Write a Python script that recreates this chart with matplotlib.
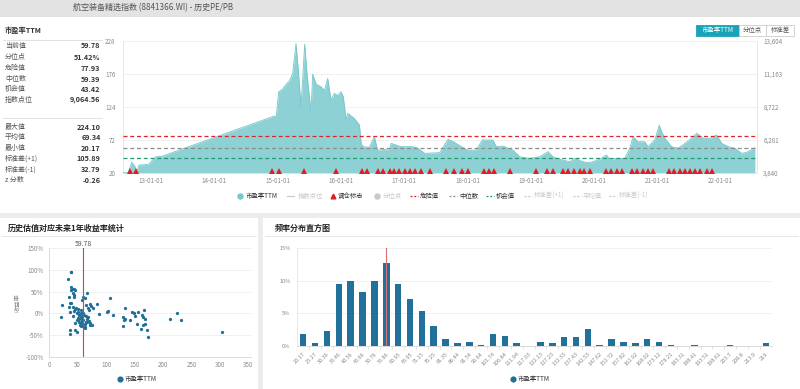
import matplotlib
matplotlib.use('Agg')
import matplotlib.pyplot as plt
import matplotlib.transforms as mtransforms
import matplotlib.dates as mdates
from matplotlib.patches import Rectangle
from matplotlib.lines import Line2D
import pandas as pd

plt.rcParams['font.family'] = ['Noto Sans CJK SC', 'DejaVu Sans']

# ---------------- data ----------------
page_title = '航空装备精选指数 (8841366.WI) - 历史PE/PB'
stat_title = '市盈率TTM'
stat_labels_a = ['当前值', '分位点', '危险值', '中位数', '机会值', '指数点位']
stat_values_a = ['59.78', '51.42%', '77.93', '59.39', '43.42', '9,064.56']
stat_labels_b = ['最大值', '平均值', '最小值', '标准差(+1)', '标准差(-1)', 'z 分数']
stat_values_b = ['224.10', '69.34', '20.17', '105.89', '32.79', '-0.26']

current_pe = 59.78
danger_value = 77.93
median_value = 59.39
chance_value = 43.42

pe_dates = ['2012-07-20', '2012-08-23', '2012-09-11', '2012-09-22', '2012-09-30', '2012-10-09',
            '2012-10-23', '2012-11-21', '2012-12-20', '2013-01-08', '2013-01-29', '2013-03-06',
            '2014-12-13', '2014-12-24', '2015-01-07', '2015-01-28', '2015-02-20', '2015-03-10',
            '2015-03-29', '2015-04-17', '2015-05-01', '2015-05-16', '2015-05-26', '2015-06-06',
            '2015-06-21', '2015-07-13', '2015-07-22', '2015-08-11', '2015-09-08', '2015-09-28',
            '2015-10-17', '2015-11-05', '2015-11-24', '2015-12-12', '2016-01-02', '2016-01-15',
            '2016-01-31', '2016-02-09', '2016-02-29', '2016-03-19', '2016-04-17', '2016-04-27',
            '2016-05-07', '2016-06-13', '2016-07-12', '2016-07-31', '2016-09-08', '2016-10-07',
            '2016-10-17', '2016-11-15', '2016-12-13', '2017-02-19', '2017-03-20', '2017-04-28',
            '2017-07-23', '2017-09-10', '2017-10-08', '2017-11-26', '2018-01-03', '2018-02-20',
            '2018-03-27', '2018-05-27', '2018-06-16', '2018-07-24', '2018-09-20', '2018-10-28',
            '2018-12-25', '2019-02-21', '2019-04-10', '2019-05-08', '2019-06-16', '2019-08-13',
            '2019-09-11', '2019-10-29', '2019-12-06', '2020-02-02', '2020-03-12', '2020-03-31',
            '2020-05-09', '2020-06-26', '2020-07-25', '2020-08-13', '2020-09-10', '2020-10-19',
            '2020-11-07', '2020-12-16', '2021-01-11', '2021-01-24', '2021-02-12', '2021-03-23',
            '2021-04-30', '2021-06-08', '2021-07-17', '2021-08-15', '2021-09-22', '2021-10-30',
            '2021-12-08', '2022-01-06', '2022-02-13', '2022-03-23', '2022-05-01', '2022-05-30',
            '2022-07-17']
pe_values = [20.5, 21, 37, 33, 30, 21.5,
             32.6, 33, 34, 40, 45.7, 46.5,
             109.8, 108, 148, 152, 160, 165,
             177, 224, 180, 124.5, 170, 223,
             172, 114.6, 176, 160, 156, 150,
             169, 135, 145.6, 142, 148, 140,
             103.5, 114, 110, 106, 95.6, 66.8,
             61.5, 60.5, 77.2, 56, 57, 56,
             66.8, 64, 61.5, 61.5, 59, 51,
             52, 73, 70, 61.5, 56, 56,
             72, 72, 61.5, 62.5, 56, 45.7,
             43, 45.7, 53.6, 45.7, 41.6, 37.8,
             43, 37.8, 36.2, 41.6, 48.4, 41.6,
             43, 43, 59, 77.2, 69.3, 69.3,
             61.5, 72, 95.6, 85, 74.7, 61.5,
             59, 66.8, 74.7, 82.5, 74.7, 74.7,
             80, 66.8, 61.5, 59, 51, 52.5,
             59.78]

rebalance_dates = ['2012-09-01', '2012-10-05', '2014-12-01', '2015-01-07', '2015-06-01', '2015-12-01',
                   '2016-05-03', '2016-06-01', '2016-08-01', '2016-08-30', '2016-10-08', '2016-11-01',
                   '2016-11-29', '2017-01-03', '2017-02-01', '2017-03-01', '2017-04-05', '2017-05-30',
                   '2017-09-01', '2017-10-13', '2017-11-30', '2018-01-03', '2018-04-05', '2018-05-04',
                   '2018-06-02', '2018-09-03', '2019-02-01', '2019-04-02', '2019-05-07', '2019-07-04',
                   '2019-08-01', '2019-09-07', '2019-10-10', '2019-11-02', '2019-12-06', '2020-03-08',
                   '2020-04-05', '2020-05-11', '2020-06-09', '2020-08-06', '2020-09-04', '2020-10-09',
                   '2020-11-07', '2020-12-06', '2021-03-09', '2021-04-06', '2021-05-10', '2021-06-08',
                   '2021-07-05', '2021-08-05', '2021-09-03', '2021-10-11', '2021-11-09']

pe_ticks = [20, 72, 124, 176, 228]
index_ticks = [3840, 6281, 8722, 11163, 13604]
year_ticks = ['2013-01-01', '2014-01-01', '2015-01-01', '2016-01-01', '2017-01-01',
              '2018-01-01', '2019-01-01', '2020-01-01', '2021-01-01', '2022-01-01']

scatter_pe = [38, 39, 33, 39, 40, 38, 43, 45, 41, 43, 35, 44, 67, 59, 62, 57, 23, 36, 38, 42,
              35, 47, 50, 55, 64, 72, 84, 76, 68, 70, 73, 107, 133, 101, 103, 112, 88, 20, 36, 44,
              48, 52, 55, 57, 53, 50, 58, 60, 56, 52, 48, 46, 54, 58, 62, 64, 66, 68, 70, 72,
              75, 60, 63, 58, 61, 45, 48, 36, 36, 56, 63, 72, 66, 50, 55, 60, 65, 42, 46,
              130, 131, 133, 145, 148, 151, 142, 154, 129, 161, 165, 169, 165, 166, 169, 171, 173,
              163, 156, 213, 225, 231, 304]
scatter_ret = [96, 95, 79, 60, 57, 54, 55, 54, 46, 42, 37, 37, 48, 37, 35, 31, 20, 25, 23, 14,
               14, 12, 10, 8, 19, 21, 21, 12, 13, 8, 16, 35, 13, 4, 5, -4, -2, -8, 4, 6,
               0, -4, -8, -12, -14, -10, -18, -15, -22, -20, -16, -22, -26, -28, -25, -20, -14, -8, -18, -22,
               -28, -30, -33, -6, -4, -38, -42, -38, -47, -30, -32, -27, -20, 2, 0, 0, -5, -6, 9,
               -8, -15, -12, 2, 1, -6, -15, -25, -29, -35, -27, -25, -8, 8, -12, -38, -54,
               -4, 2, -14, 1, -15, -42]
scatter_xticks = [0, 50, 100, 150, 200, 250, 300, 350]
scatter_yticks = [-100, -50, 0, 50, 100, 150]

hist_bins = ['20.17', '25.27', '30.36', '35.46', '40.56', '45.66', '50.76', '55.86', '60.95', '66.05',
             '71.15', '76.25', '81.35', '86.44', '91.54', '96.64', '101.74', '106.84', '111.94', '117.03',
             '122.13', '127.23', '132.33', '137.43', '142.53', '147.62', '152.72', '157.82', '162.92', '168.02',
             '173.12', '178.21', '183.31', '188.41', '193.51', '198.61', '203.7', '208.8', '213.9', '219']
hist_pct = [1.8, 0.4, 2.25, 9.5, 10.0, 8.35, 10.0, 12.7, 9.5, 7.2,
            5.4, 3.0, 1.1, 0.4, 0.67, 0.2, 1.84, 1.55, 0.4, 0,
            0.67, 0.4, 1.33, 1.33, 2.56, 0.2, 1.13, 0.67, 0.4, 1.13,
            0.67, 0.2, 0, 0.2, 0, 0, 0.2, 0, 0, 0.4]
hist_current_bin = '55.86'
hist_yticks = [0, 5, 10, 15]

# ---------------- styles ----------------
TEAL_FILL = '#8ed1d5'
TEAL_LINE = '#74c6cb'
BLUE = '#1f6f96'
RED = '#e31b23'
GRAY_TXT = '#8a8a8a'
DARK = '#333333'
LIGHT = '#c8c8c8'

W, H = 800, 389
fig = plt.figure(figsize=(8, 3.89), dpi=100)
fig.patch.set_facecolor('#ececec')


def px_axes(l, t, r, b, **kw):
    return fig.add_axes([l / W, 1 - b / H, (r - l) / W, (b - t) / H], **kw)


bg = px_axes(0, 0, W, H)
bg.set_xlim(0, W)
bg.set_ylim(H, 0)
bg.axis('off')

# cards
bg.add_patch(Rectangle((0, 0), 800, 17, color='#e3e3e3', lw=0))
bg.add_patch(Rectangle((0, 17), 800, 196, color='white', lw=0))
bg.add_patch(Rectangle((0, 218), 258, 171, color='white', lw=0))
bg.add_patch(Rectangle((263, 218), 537, 171, color='white', lw=0))
bg.text(73, 8, page_title, fontsize=5.8, color='#555555', va='center', ha='left')

# stats panel
bg.text(5, 30, stat_title, fontsize=5.2, fontweight='bold', color=DARK, va='center')
bg.plot([3, 102], [40, 40], color='#dddddd', lw=0.6)
bg.plot([3, 102], [118, 118], color='#dddddd', lw=0.6)
ys_a = [45.7, 57.3, 68, 79, 89.3, 99.7]
ys_b = [127, 137.3, 148, 158.7, 169.3, 180]
for lab, val, y in zip(stat_labels_a + stat_labels_b, stat_values_a + stat_values_b, ys_a + ys_b):
    bg.text(5, y, lab, fontsize=5, color='#555555', va='center', ha='left')
    bg.text(100.5, y, val, fontsize=5.2, color=DARK, fontweight='bold', va='center', ha='right')

# buttons
bg.add_patch(Rectangle((696, 24.5), 42.5, 11.5, facecolor='#1aa2b6', edgecolor='#1aa2b6', lw=0.6))
bg.text(717.2, 30.3, '市盈率TTM', fontsize=4.6, color='white', ha='center', va='center')
bg.add_patch(Rectangle((738.5, 24.5), 27.5, 11.5, facecolor='white', edgecolor='#cccccc', lw=0.6))
bg.text(752.2, 30.3, '分位点', fontsize=4.6, color='#555555', ha='center', va='center')
bg.add_patch(Rectangle((766, 24.5), 28, 11.5, facecolor='white', edgecolor='#cccccc', lw=0.6))
bg.text(780, 30.3, '标准差', fontsize=4.6, color='#555555', ha='center', va='center')

# top legend
ly = 196
bg.plot([239.5], [ly], 'o', color='#73c8cd', ms=3.6)
bg.text(246, ly, '市盈率TTM', fontsize=4.6, color=DARK, va='center')
bg.plot([287, 294], [ly, ly], color=LIGHT, lw=0.8)
bg.text(298, ly, '指数点位', fontsize=4.6, color=LIGHT, va='center')
bg.plot([332.7], [ly], '^', color=RED, ms=3.4)
bg.text(338, ly, '调仓标志', fontsize=4.6, color=DARK, va='center')
bg.plot([376.7], [ly], 'o', color=LIGHT, ms=3.6)
bg.text(383, ly, '分位点', fontsize=4.6, color=LIGHT, va='center')
dash_items = [(410, '危险值', '#d9262c', DARK), (449, '中位数', '#8c8c8c', DARK),
              (486, '机会值', '#239a72', DARK), (524, '标准差(+1)', LIGHT, LIGHT),
              (573, '平均值', LIGHT, LIGHT), (609, '标准差(-1)', LIGHT, LIGHT)]
for x0, lab, c, tc in dash_items:
    bg.add_line(Line2D([x0, x0 + 8], [ly, ly], color=c, lw=0.9, dashes=(1.6, 1.4)))
    bg.text(x0 + 10, ly, lab, fontsize=4.6, color=tc, va='center')

# bottom titles
bg.text(8, 228, '历史估值对应未来1年收益率统计', fontsize=5.8, fontweight='bold', color='#222222', va='center')
bg.plot([2, 256], [236, 236], color='#e2e2e2', lw=0.6)
bg.text(275, 228, '频率分布直方图', fontsize=5.8, fontweight='bold', color='#222222', va='center')
bg.plot([265, 798], [236, 236], color='#e2e2e2', lw=0.6)

# scatter legend + hist legend
bg.plot([120], [379], 'o', color=BLUE, ms=3.4)
bg.text(125, 379, '市盈率TTM', fontsize=4.6, color=DARK, va='center')
bg.plot([513], [379], 'o', color=BLUE, ms=3.4)
bg.text(518, 379, '市盈率TTM', fontsize=4.6, color=DARK, va='center')

# ---------------- main PE chart ----------------
ax = px_axes(122.5, 41, 757, 173)
ax.patch.set_alpha(0)
d = pd.to_datetime(pe_dates)
ax.fill_between(d, pe_values, pe_ticks[0], color=TEAL_FILL, lw=0, zorder=2)
ax.plot(d, pe_values, color=TEAL_LINE, lw=0.6, zorder=3)
ax.set_ylim(pe_ticks[0], pe_ticks[-1])
ax.set_xlim(d[0], d[-1] + pd.Timedelta(days=12))
ax.set_yticks(pe_ticks)
ax.set_xticks(pd.to_datetime(year_ticks))
ax.xaxis.set_major_formatter(mdates.DateFormatter('%y-%m-%d'))
ax.tick_params(axis='both', length=0, labelsize=4.5, labelcolor=GRAY_TXT)
ax.tick_params(axis='y', pad=5)
ax.tick_params(axis='x', pad=3)
ax.yaxis.grid(True, color='#eeeeee', lw=0.6, zorder=0)
ax.set_axisbelow(True)
ax.spines['top'].set_visible(False)
for s in ['left', 'right', 'bottom']:
    ax.spines[s].set_color('#e3e3e3')
    ax.spines[s].set_linewidth(0.6)
ax.axhline(danger_value, color='#d9262c', lw=0.9, dashes=(3.2, 2.2), zorder=4)
ax.axhline(median_value, color='#8c8c8c', lw=0.9, dashes=(3.2, 2.2), zorder=4)
ax.axhline(chance_value, color='#239a72', lw=0.9, dashes=(3.2, 2.2), zorder=4)
tri_tr = mtransforms.offset_copy(ax.transData, fig=fig, x=0, y=2.3, units='dots')
rd = pd.to_datetime(rebalance_dates)
ax.plot(rd, [pe_ticks[0]] * len(rd), '^', color=RED, ms=3.8, mew=0, transform=tri_tr,
        clip_on=False, zorder=5)

ax2 = ax.twinx()
ax2.set_ylim(index_ticks[0], index_ticks[-1])
ax2.set_yticks(index_ticks)
ax2.set_yticklabels([f'{v:,}' for v in index_ticks])
ax2.tick_params(axis='y', length=0, labelsize=4.5, labelcolor=GRAY_TXT, pad=4.5)
for s in ax2.spines.values():
    s.set_visible(False)

# ---------------- scatter ----------------
sa = px_axes(49.3, 248.3, 250.7, 356.7)
sa.patch.set_alpha(0)
sa.scatter(scatter_pe, scatter_ret, s=5.5, color=BLUE, lw=0, zorder=3)
sa.set_xlim(0, 354)
sa.set_ylim(-100, 150)
sa.set_xticks(scatter_xticks)
sa.set_yticks(scatter_yticks)
sa.set_yticklabels([f'{v}%' for v in scatter_yticks])
sa.tick_params(axis='both', length=0, labelsize=4.5, labelcolor=GRAY_TXT)
sa.tick_params(axis='y', pad=4)
sa.tick_params(axis='x', pad=3)
sa.yaxis.grid(True, color='#eeeeee', lw=0.6)
sa.set_axisbelow(True)
for s in ['top', 'right']:
    sa.spines[s].set_visible(False)
for s in ['left', 'bottom']:
    sa.spines[s].set_color('#d6d6d6')
    sa.spines[s].set_linewidth(0.6)
sa.axvline(current_pe, color='#c9444c', lw=0.8, zorder=4)
sa.text(current_pe, 151, f'{current_pe:.2f}', fontsize=5, color='#555555', ha='center', va='bottom')
sa.set_ylabel('收益率', fontsize=4.5, color=GRAY_TXT, labelpad=3)

# ---------------- histogram ----------------
ha = px_axes(297.3, 248.3, 771.7, 346)
ha.patch.set_alpha(0)
xs = list(range(len(hist_bins)))
ha.bar(xs, hist_pct, width=0.55, color='#21719a', zorder=3)
ha.set_xlim(-0.5, len(hist_bins) - 0.5)
ha.set_ylim(0, 15)
ha.set_yticks(hist_yticks)
ha.set_yticklabels([f'{v}%' for v in hist_yticks])
ha.set_xticks(xs)
ha.set_xticklabels(hist_bins, rotation=45, ha='right', rotation_mode='anchor')
ha.set_xticks([x + 0.5 for x in xs[:-1]], minor=True)
ha.tick_params(axis='both', which='major', length=0, labelsize=4, labelcolor=GRAY_TXT)
ha.tick_params(axis='x', which='major', pad=4)
ha.tick_params(axis='x', which='minor', length=2, color='#d6d6d6', width=0.5)
ha.tick_params(axis='y', pad=5)
ha.yaxis.grid(True, color='#eeeeee', lw=0.6)
ha.set_axisbelow(True)
for s in ['top', 'right']:
    ha.spines[s].set_visible(False)
ha.spines['left'].set_color('#e6e6e6')
ha.spines['bottom'].set_color('#d6d6d6')
for s in ['left', 'bottom']:
    ha.spines[s].set_linewidth(0.6)
ha.axvline(hist_bins.index(hist_current_bin), color='#d4707a', lw=0.8, zorder=4)

fig.savefig('out.png', dpi=100, facecolor=fig.get_facecolor())
